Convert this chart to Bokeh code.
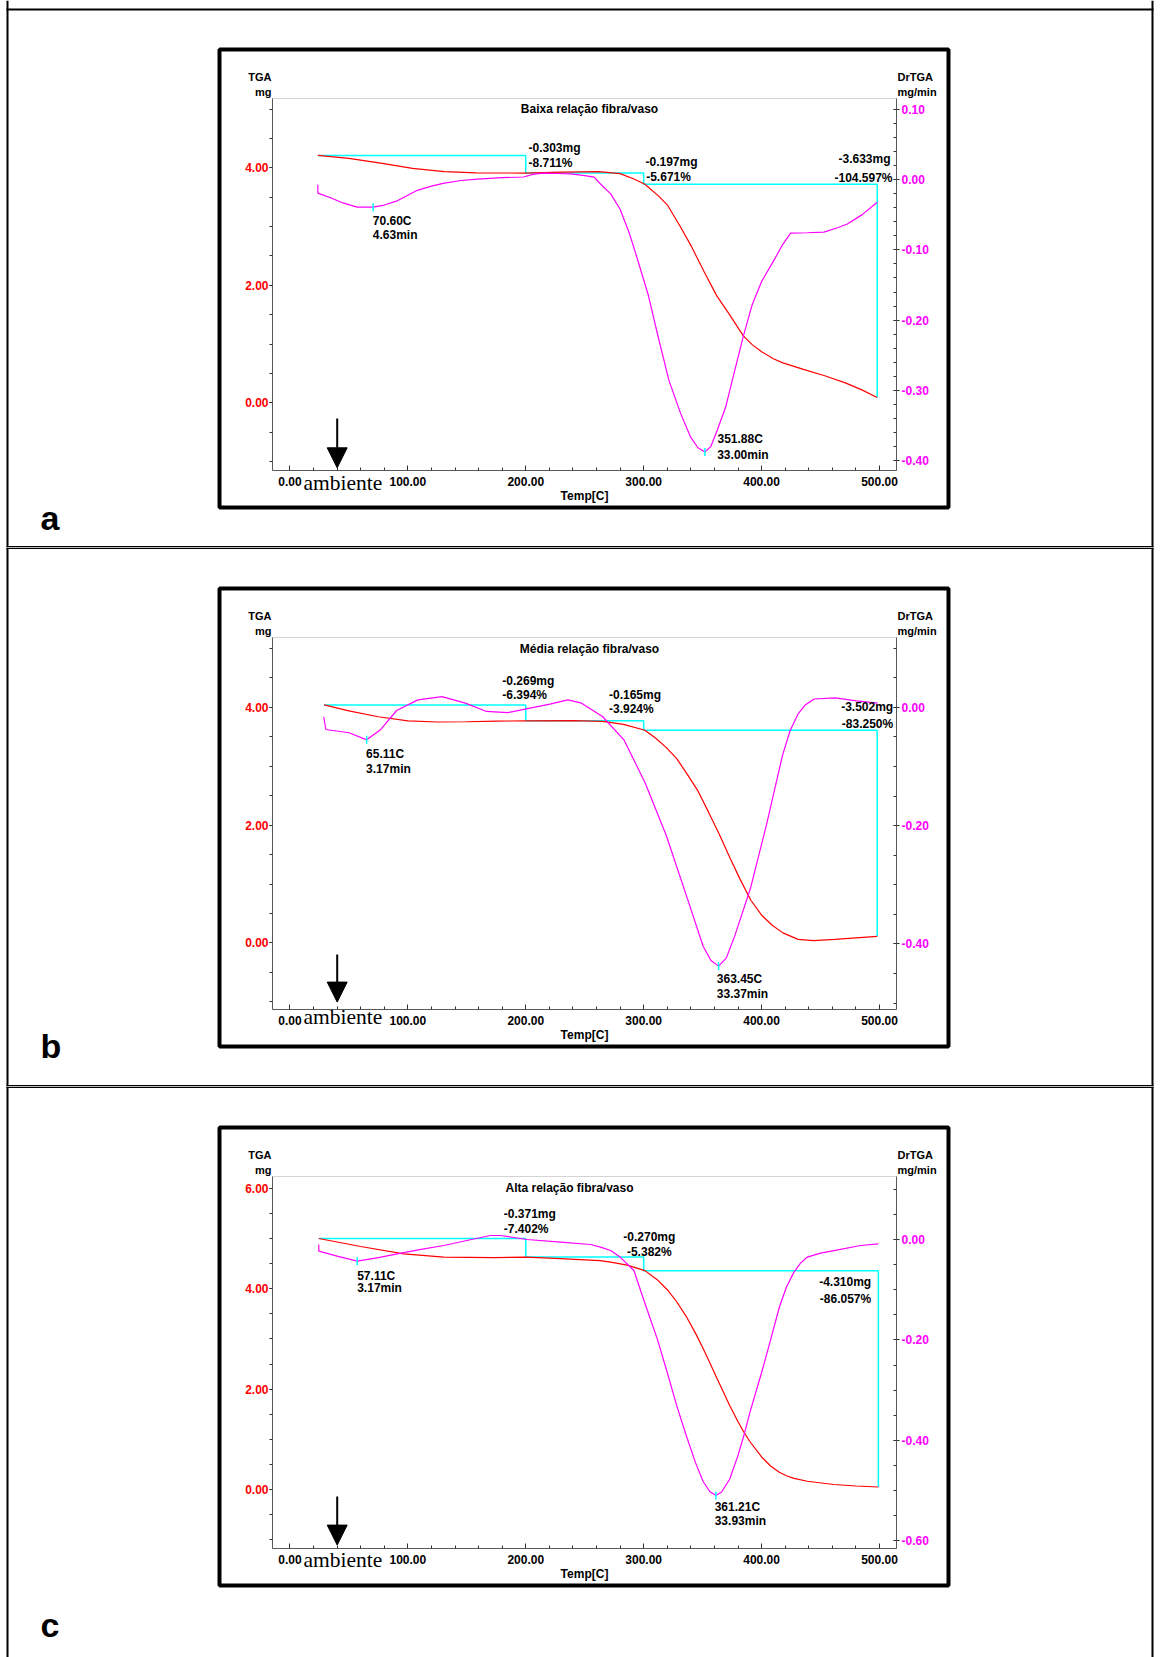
from bokeh.plotting import figure
from bokeh.models import (Range1d, LinearAxis, FixedTicker, PrintfTickFormatter,
                          Label, BoxAnnotation, Arrow, NormalHead)
from bokeh.layouts import column
from bokeh.embed import file_html
from bokeh.resources import INLINE

# ------------------------------------------------------------------ data
X_MAJOR = [0, 100, 200, 300, 400, 500]
X_MINOR_STEP = 20

# ---- panel a : Baixa relação fibra/vaso
A_TITLE = "Baixa relação fibra/vaso"
A_TGA_T = [23.7, 50, 77, 104, 131, 158, 200, 230, 262, 280, 291.7, 301, 312, 320, 331, 340,
           345.5, 352, 362, 372.8, 384.5, 392, 400, 410, 418, 435.5, 453.5, 471, 485, 498]
A_TGA_MG = [4.21, 4.16, 4.08, 3.99, 3.935, 3.915, 3.91, 3.925, 3.935, 3.9, 3.81, 3.72, 3.53, 3.37,
            3.0, 2.68, 2.46, 2.2, 1.82, 1.5, 1.14, 0.99, 0.87, 0.75, 0.68, 0.57, 0.46, 0.34, 0.22, 0.09]
A_DTG_T = [23.7, 23.7, 35, 45, 57, 70.6, 80, 91, 100, 108, 120, 130, 145, 159, 180, 198, 207, 215,
           228, 238, 250, 258, 263.4, 272, 280, 288, 294.6, 304, 312, 321.4, 331.3, 339.8, 346,
           351.9, 357, 362.4, 369.5, 375.1, 384.5, 392, 400, 410, 418, 424.6, 438.8, 452.8, 465,
           472.7, 485, 498]
A_DTG_D = [-0.007, -0.019, -0.026, -0.033, -0.039, -0.039, -0.036, -0.03, -0.022, -0.015, -0.009,
           -0.005, -0.001, 0.001, 0.003, 0.004, 0.008, 0.0094, 0.009, 0.0085, 0.006, 0.0037, -0.006,
           -0.02, -0.042, -0.077, -0.1125, -0.165, -0.222, -0.286, -0.333, -0.367, -0.382, -0.388,
           -0.38, -0.357, -0.324, -0.286, -0.223, -0.178, -0.145, -0.116, -0.092, -0.076, -0.0755,
           -0.0746, -0.068, -0.063, -0.05, -0.032]
A_STEP_T = [23.7, 200, 300, 498]
A_STEP_MG = [4.21, 3.91, 3.72, 0.09]
A_PEAK_T = [70.6, 351.9]
A_PEAK_D = [-0.039, -0.388]
A_NOTES = ["-0.303mg", "-8.711%", "-0.197mg", "-5.671%", "-3.633mg", "-104.597%",
           "70.60C", "4.63min", "351.88C", "33.00min"]
A_LEFT_MAJOR = [0, 2, 4]
A_RIGHT_MAJOR = [0.1, 0.0, -0.1, -0.2, -0.3, -0.4]

# ---- panel b : Média relação fibra/vaso
B_TITLE = "Média relação fibra/vaso"
B_TGA_T = [29, 50, 75, 100, 125, 150, 175, 200, 240, 265, 283, 301, 310, 319, 328, 337, 346, 355,
           364, 373, 382, 391, 400, 409, 418, 431, 444, 462, 480, 498]
B_TGA_MG = [4.04, 3.94, 3.84, 3.77, 3.75, 3.755, 3.765, 3.77, 3.775, 3.76, 3.71, 3.61, 3.48, 3.32,
            3.13, 2.86, 2.58, 2.22, 1.85, 1.45, 1.07, 0.72, 0.47, 0.3, 0.17, 0.06, 0.04, 0.06, 0.085, 0.11]
B_DTG_T = [28.7, 30.5, 50.2, 65.1, 77.1, 90.5, 108.5, 129, 148.8, 166.7, 184.6, 202.6, 220.5, 235.7,
           247.4, 265.3, 283.2, 301.1, 319, 337, 350.4, 357, 363.5, 370, 377.3, 390.7, 404.2, 417.6,
           424, 431, 437, 444.5, 462.4, 480.4, 498.3]
B_DTG_D = [-0.016, -0.0375, -0.043, -0.055, -0.0375, -0.0054, 0.0125, 0.018, 0.007, -0.007, -0.009,
           -0.0018, 0.0054, 0.0125, 0.007, -0.016, -0.055, -0.127, -0.216, -0.323, -0.404, -0.428,
           -0.4376, -0.424, -0.386, -0.305, -0.198, -0.082, -0.04, -0.011, 0.004, 0.014, 0.016,
           0.011, 0.007]
B_STEP_T = [29, 200, 300, 498]
B_STEP_MG = [4.04, 3.77, 3.61, 0.11]
B_PEAK_T = [65.1, 363.5]
B_PEAK_D = [-0.055, -0.4376]
B_NOTES = ["-0.269mg", "-6.394%", "-0.165mg", "-3.924%", "-3.502mg", "-83.250%",
           "65.11C", "3.17min", "363.45C", "33.37min"]
B_LEFT_MAJOR = [0, 2, 4]
B_RIGHT_MAJOR = [0.0, -0.2, -0.4]

# ---- panel c : Alta relação fibra/vaso
C_TITLE = "Alta relação fibra/vaso"
C_TGA_T = [24.5, 60, 96.6, 130.5, 173, 200, 229.5, 263, 272, 286, 301, 311.5, 320, 328, 336, 344,
           350.4, 356, 361.2, 366, 372.8, 380, 385, 390, 400, 407.6, 415, 421, 427.4, 438.8, 461.3,
           480, 499]
C_TGA_MG = [5.0, 4.84, 4.695, 4.63, 4.62, 4.63, 4.6, 4.56, 4.53, 4.47, 4.36, 4.18, 3.98, 3.74, 3.45,
            3.11, 2.81, 2.53, 2.26, 2.02, 1.68, 1.35, 1.14, 0.956, 0.648, 0.469, 0.343, 0.273, 0.222,
            0.164, 0.1, 0.07, 0.05]
C_DTG_T = [24.5, 24.5, 40, 57.1, 75, 91, 110, 130.5, 150, 170, 178.6, 190, 201, 229.5, 255, 263.4,
           272, 280, 291.7, 300, 311.5, 320, 328, 336, 344, 350.4, 356, 361.2, 366, 372.8, 380, 385,
           390, 400, 407.6, 415, 421, 427.4, 433, 438.8, 450, 461.3, 484, 499]
C_DTG_D = [-0.01, -0.0233, -0.033, -0.0432, -0.036, -0.0285, -0.02, -0.012, -0.002, 0.008, 0.008,
           0.004, 0.0, -0.0054, -0.01, -0.0153, -0.0219, -0.035, -0.0618, -0.12, -0.198, -0.265,
           -0.331, -0.39, -0.445, -0.482, -0.502, -0.51, -0.503, -0.478, -0.43, -0.39, -0.345,
           -0.265, -0.2, -0.135, -0.095, -0.065, -0.047, -0.035, -0.027, -0.022, -0.012, -0.0086]
C_STEP_T = [24.5, 200, 300, 499]
C_STEP_MG = [5.0, 4.63, 4.36, 0.05]
C_PEAK_T = [57.1, 361.2]
C_PEAK_D = [-0.0432, -0.51]
C_NOTES = ["-0.371mg", "-7.402%", "-0.270mg", "-5.382%", "-4.310mg", "-86.057%",
           "57.11C", "3.17min", "361.21C", "33.93min"]
C_LEFT_MAJOR = [0, 2, 4, 6]
C_RIGHT_MAJOR = [0.0, -0.2, -0.4, -0.6]

PANEL_LETTERS = ["a", "b", "c"]
AXIS_X_TITLE = "Temp[C]"

# ------------------------------------------------------------------ styling / layout
SANS = "Liberation Sans"
SERIF = "Liberation Serif"
RED = "#ff0000"
MAG = "#ff00ff"
CYAN = "#00ffff"
AXC = "#505050"

PAGE_W = 1160
X_ZERO = 289.4          # page x of 0 degC
X_PX = 1.1793           # px per degC
PLOT_L, PLOT_R = 272, 896     # chart area, panel-relative page px
PLOT_T, PLOT_B = 98, 470


def T_of(X):
    return (X - X_ZERO) / X_PX


def minor_list(lo, hi, step):
    n = int(round((hi - lo) / step))
    return [round(lo + k * step, 4) for k in range(n + 1)]


def style_axis(ax, color, major, minor, t_in, t_out, m_in, m_out, standoff):
    ax.ticker = FixedTicker(ticks=major, minor_ticks=minor)
    ax.formatter = PrintfTickFormatter(format="%.2f")
    ax.major_label_text_color = color
    ax.major_label_text_font = SANS
    ax.major_label_text_font_size = "12px"
    ax.major_label_text_font_style = "bold"
    ax.axis_line_color = AXC
    ax.axis_line_width = 1
    ax.major_tick_line_color = "#303030"
    ax.minor_tick_line_color = "#303030"
    ax.major_tick_in = t_in
    ax.major_tick_out = t_out
    ax.minor_tick_in = m_in
    ax.minor_tick_out = m_out
    ax.major_label_standoff = standoff


class Panel:
    def __init__(self, top_rel, bot_rel, mg_zero, mg_px, dr_zero, dr_px):
        self.top, self.bot = top_rel, bot_rel
        self.mg_zero, self.mg_px = mg_zero, mg_px
        self.dr_zero, self.dr_px = dr_zero, dr_px
        p = figure(width=PAGE_W, height=bot_rel - top_rel,
                   x_range=Range1d(T_of(0), T_of(PAGE_W)),
                   y_range=Range1d(self.mg(bot_rel), self.mg(top_rel)),
                   x_axis_location=None, y_axis_location=None,
                   output_backend="svg", toolbar_location=None, min_border=0)
        p.extra_y_ranges = {"dr": Range1d(self.dr(bot_rel), self.dr(top_rel))}
        p.title.visible = False
        p.grid.visible = False
        p.xgrid.visible = False
        p.ygrid.visible = False
        p.outline_line_color = None
        p.background_fill_color = "white"
        p.border_fill_color = "white"
        self.p = p

    def mg(self, Y):
        return (self.mg_zero - Y) / self.mg_px

    def dr(self, Y):
        return (self.dr_zero - Y) / self.dr_px

    # screen coords (frame == whole figure)
    def sx(self, X):
        return X

    def sy(self, Y):
        return self.bot - Y

    def text(self, X, Y, s, align="left", size="12px", color="black", font=SANS,
             style="bold", baseline="middle"):
        self.p.add_layout(Label(x=self.sx(X), y=self.sy(Y), x_units="screen", y_units="screen",
                                text=s, text_align=align, text_baseline=baseline, text_font=font,
                                text_font_size=size, text_font_style=style, text_color=color))

    def bar(self, X0, X1, Y0, Y1):
        self.p.add_layout(BoxAnnotation(left=self.sx(X0), right=self.sx(X1),
                                        top=self.sy(Y0), bottom=self.sy(Y1),
                                        left_units="screen", right_units="screen",
                                        top_units="screen", bottom_units="screen",
                                        fill_color="black", fill_alpha=1.0, line_alpha=0.0))

    def box(self, X0, X1, Y0, Y1, lw, color="black"):
        self.p.add_layout(BoxAnnotation(left=self.sx(X0), right=self.sx(X1),
                                        top=self.sy(Y0), bottom=self.sy(Y1),
                                        left_units="screen", right_units="screen",
                                        top_units="screen", bottom_units="screen",
                                        fill_alpha=0.0, line_color=color, line_width=lw,
                                        line_alpha=1.0))

    def axes(self, yl_major, yl_minor, yr_major, yr_minor):
        p = self.p
        xb = (T_of(PLOT_L), T_of(PLOT_R))
        lb = (self.mg(PLOT_B), self.mg(PLOT_T))
        rb = (self.dr(PLOT_B), self.dr(PLOT_T))
        # chart area outline
        p.add_layout(BoxAnnotation(left=xb[0], right=xb[1], bottom=lb[0], top=lb[1],
                                   fill_alpha=0.0, line_color="#707070", line_width=1))
        xa = LinearAxis(fixed_location=lb[0], bounds=xb)
        style_axis(xa, "black", X_MAJOR, minor_list(0, 500, X_MINOR_STEP), 5, 0, 3, 0, 6)
        p.add_layout(xa, "below")
        ya = LinearAxis(fixed_location=xb[0], bounds=lb)
        style_axis(ya, RED, yl_major, yl_minor, 0, 3, 0, 3, 1)
        p.add_layout(ya, "left")
        ra = LinearAxis(y_range_name="dr", fixed_location=xb[1], bounds=rb)
        style_axis(ra, MAG, yr_major, yr_minor, 3, 3, 3, 0, 2)
        p.add_layout(ra, "right")

    def curves(self, tga_t, tga_mg, dtg_t, dtg_d, step_t, step_mg, peak_t, peak_d):
        p = self.p
        px, py = [], []
        for i in range(len(step_t) - 1):
            px += [step_t[i], step_t[i + 1]]
            py += [step_mg[i], step_mg[i]]
        px.append(step_t[-1])
        py.append(step_mg[-1])
        p.line(px, py, line_color=CYAN, line_width=1.5)
        p.line(tga_t, tga_mg, line_color=RED, line_width=1.2)
        p.line(dtg_t, dtg_d, line_color=MAG, line_width=1.2, y_range_name="dr")
        half = 4.0 / self.dr_px
        p.segment(x0=peak_t, x1=peak_t, y0=[d - half for d in peak_d],
                  y1=[d + half for d in peak_d], line_color=CYAN, line_width=1.5,
                  y_range_name="dr")

    def decorate(self, title, title_x, title_y, letter, letter_y, amb_y, arrow_top, arrow_tip,
                 notes, note_pos, top_line, bottom_line):
        self.text(271, 76, "TGA", align="right", size="11px")
        self.text(271, 91, "mg", align="right", size="11px")
        self.text(897, 76, "DrTGA", align="left", size="11px")
        self.text(897, 91, "mg/min", align="left", size="11px")
        self.text(584, 495.5, AXIS_X_TITLE, align="center")
        self.text(title_x, title_y, title, align="center")
        for s, (X, Y, al) in zip(notes, note_pos):
            self.text(X, Y, s, align=al)
        self.p.add_layout(Arrow(end=NormalHead(size=20, fill_color="black", line_color="black",
                                               line_width=1),
                                x_start=self.sx(336.7), y_start=self.sy(arrow_top),
                                x_end=self.sx(336.7), y_end=self.sy(arrow_tip),
                                start_units="screen", end_units="screen",
                                line_color="black", line_width=2))
        self.text(303, amb_y, "ambiente", align="left", size="21.5px", font=SERIF, style="normal")
        self.text(40, letter_y, letter, align="left", size="34px")
        # thick black frame around the chart
        self.box(219, 948, 49, 507, 4)
        # page border / separators
        self.bar(6, 8, self.top, self.bot)
        self.bar(1151, 1153, self.top, self.bot)
        if top_line is not None:
            self.bar(6, 1153, top_line[0], top_line[1])
        if bottom_line is not None:
            self.bar(6, 1153, bottom_line[0], bottom_line[1])


# ---- panel a  (page y 0..547)
A = Panel(0, 547, 402.3, 58.75, 179.3, 701.4)
A.axes(A_LEFT_MAJOR, minor_list(-1, 5, 0.5), A_RIGHT_MAJOR, minor_list(-0.4, 0.1, 0.02))
A.curves(A_TGA_T, A_TGA_MG, A_DTG_T, A_DTG_D, A_STEP_T, A_STEP_MG, A_PEAK_T, A_PEAK_D)
A.decorate(A_TITLE, 589, 108, PANEL_LETTERS[0], 517, 482, 418, 467.3, A_NOTES,
           [(528, 147.3, "left"), (528, 162.7, "left"), (645, 161, "left"), (645.7, 176, "left"),
            (890, 158.3, "right"), (892, 177.3, "right"), (372.3, 220, "left"),
            (372.3, 234, "left"), (717, 438.3, "left"), (716.7, 454, "left")],
           (8, 10), (545.5, 547))

# ---- panel b  (page y 547..1086 -> panel-relative 8..547)
B = Panel(8, 547, 403.4, 58.9, 167.8, 591.5)
B.axes(B_LEFT_MAJOR, minor_list(-1, 5, 0.5), B_RIGHT_MAJOR, minor_list(-0.5, 0.1, 0.05))
B.curves(B_TGA_T, B_TGA_MG, B_DTG_T, B_DTG_D, B_STEP_T, B_STEP_MG, B_PEAK_T, B_PEAK_D)
B.decorate(B_TITLE, 589, 109.7, PANEL_LETTERS[1], 506, 477.3, 415, 462.6, B_NOTES,
           [(501.8, 141.4, "left"), (501.8, 155.1, "left"), (608.5, 155.1, "left"),
            (608.5, 169.9, "left"), (892.7, 167.8, "right"), (892.7, 184.7, "right"),
            (365.6, 214.3, "left"), (365.6, 229, "left"), (716.3, 439.3, "left"),
            (716.3, 454.1, "left")],
           (8, 9.5), (545.5, 547))

# ---- panel c  (page y 1086..1657 -> panel-relative 8..579)
C = Panel(8, 579, 411.0, 50.2, 161.0, 502.0)
C.axes(C_LEFT_MAJOR, minor_list(-1, 6, 0.5), C_RIGHT_MAJOR, minor_list(-0.6, 0.1, 0.05))
C.curves(C_TGA_T, C_TGA_MG, C_DTG_T, C_DTG_D, C_STEP_T, C_STEP_MG, C_PEAK_T, C_PEAK_D)
C.decorate(C_TITLE, 569, 109.3, PANEL_LETTERS[2], 546, 481.4, 418, 466.6, C_NOTES,
           [(503.3, 135.3, "left"), (503.3, 150.3, "left"), (648.8, 158.7, "center"),
            (648.8, 173, "center"), (870.7, 203, "right"), (870.7, 220.3, "right"),
            (356.7, 197, "left"), (356.7, 209.3, "left"), (714.2, 428.5, "left"),
            (714.2, 442.3, "left")],
           (8, 9.5), None)

layout = column(A.p, B.p, C.p, spacing=0)
open("out.html", "w").write(file_html(layout, INLINE))
